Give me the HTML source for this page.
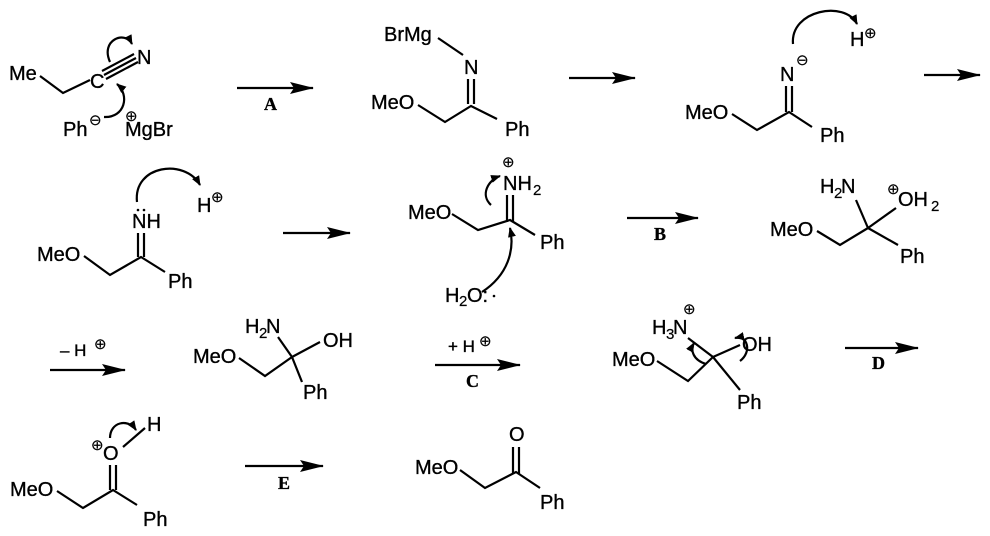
<!DOCTYPE html>
<html><head><meta charset="utf-8"><style>
html,body{margin:0;padding:0;background:#fff}
svg{display:block}
text{font-family:"Liberation Sans",sans-serif;font-size:20px;fill:#000;stroke:#000;stroke-width:0.35}
.s{font-size:15px;stroke-width:0.2}
.l{font-family:"Liberation Serif",serif;font-weight:bold;font-size:18px}
line,path,polyline{stroke:#000;stroke-width:2.2;fill:none}
</style></head><body>
<svg width="990" height="536" viewBox="0 0 990 536">
<defs>
<marker id="a" markerWidth="10" markerHeight="8" refX="9" refY="4" orient="auto" markerUnits="userSpaceOnUse"><path d="M0,0 L10,4 L0,8 Z" style="fill:#000;stroke:none"/></marker>
<marker id="b" markerWidth="24" markerHeight="12" refX="23" refY="6" orient="auto" markerUnits="userSpaceOnUse"><path d="M0,0 L24,6 L0,12 L4,6 Z" style="fill:#000;stroke:none"/></marker>
</defs>

<!-- Row 1: nitrile -->
<text x="9" y="80">Me</text>
<polyline points="40,76 63,93 90,80"/>
<text x="90" y="88">C</text>
<line x1="104" y1="75" x2="136" y2="58"/><line x1="102" y1="71" x2="134" y2="54"/><line x1="106" y1="79" x2="138" y2="62"/>
<text x="137" y="64">N</text>
<path d="M110,62 C100,40 125,30 132,44" marker-end="url(#a)"/>
<text x="63" y="136">Ph</text><text class="s" x="89" y="125">⊖</text>
<text x="125" y="136">MgBr</text><text class="s" x="125" y="121">⊕</text>
<path d="M104,117 C125,118 130,95 117,84" marker-end="url(#a)"/>

<line x1="237" y1="88" x2="313" y2="88" marker-end="url(#b)"/>
<text class="l" x="264" y="110">A</text>

<text x="384" y="41">BrMg</text>
<line x1="438" y1="38" x2="463" y2="55"/>
<text x="464" y="74">N</text>
<line x1="468" y1="79" x2="468" y2="104"/><line x1="474" y1="79" x2="474" y2="104"/>
<text x="371" y="109">MeO</text>
<polyline points="418,105 445,122 471,106 497,119"/>
<text x="505" y="136">Ph</text>

<line x1="569" y1="78" x2="635" y2="78" marker-end="url(#b)"/>

<text x="780" y="81">N</text><text class="s" x="796" y="65">⊖</text>
<line x1="786" y1="86" x2="786" y2="112"/><line x1="792" y1="86" x2="792" y2="112"/>
<text x="685" y="119">MeO</text>
<polyline points="732,114 757,130 789,112 812,127"/>
<text x="820" y="142">Ph</text>
<path d="M793,44 C790,10 845,0 857,24" marker-end="url(#a)"/>
<text x="850" y="46">H</text><text class="s" x="864" y="38">⊕</text>

<line x1="924" y1="75" x2="980" y2="75" marker-end="url(#b)"/>

<!-- Row 2 -->
<text x="132" y="228">NH</text>
<circle cx="138" cy="210" r="1.3"/><circle cx="144" cy="210" r="1.3"/>
<line x1="138" y1="233" x2="138" y2="257"/><line x1="144" y1="233" x2="144" y2="257"/>
<text x="37" y="261">MeO</text>
<polyline points="84,256 110,275 141,257 165,272"/>
<text x="168" y="288">Ph</text>
<path d="M137,202 C133,165 185,158 200,185" marker-end="url(#a)"/>
<text x="197" y="212">H</text><text class="s" x="211" y="202">⊕</text>

<line x1="283" y1="233" x2="350" y2="233" marker-end="url(#b)"/>

<text x="503" y="190">NH</text><text class="s" x="533" y="195">2</text><text class="s" x="502" y="167">⊕</text>
<line x1="507" y1="195" x2="507" y2="222"/><line x1="513" y1="195" x2="513" y2="222"/>
<text x="408" y="219">MeO</text>
<polyline points="452,214 478,230 510,220 535,235"/>
<text x="540" y="249">Ph</text>
<path d="M491,205 C480,195 488,180 500,176" marker-end="url(#a)"/>
<path d="M482,292 C508,275 515,250 510,228" marker-end="url(#a)"/>
<text x="445" y="302">H</text><text class="s" x="459" y="306">2</text><text x="467" y="302">O:</text><circle cx="494" cy="296" r="1.3"/>

<line x1="627" y1="218" x2="698" y2="218" marker-end="url(#b)"/>
<text class="l" x="654" y="240">B</text>

<text x="820" y="193">H</text><text class="s" x="834" y="198">2</text><text x="841" y="193">N</text>
<text class="s" x="887" y="194">⊕</text><text x="898" y="206">OH</text><text class="s" x="931" y="211">2</text>
<text x="770" y="236">MeO</text>
<polyline points="817,231 840,245 868,228"/>
<line x1="868" y1="228" x2="856" y2="200"/><line x1="868" y1="228" x2="896" y2="208"/><line x1="868" y1="228" x2="898" y2="245"/>
<text x="900" y="263">Ph</text>

<!-- Row 3 -->
<text x="60" y="356" style="font-size:17px">– H</text><text class="s" x="94" y="349">⊕</text>
<line x1="50" y1="370" x2="125" y2="370" marker-end="url(#b)"/>

<text x="245" y="333">H</text><text class="s" x="259" y="338">2</text><text x="266" y="333">N</text>
<text x="323" y="347">OH</text>
<text x="193" y="363">MeO</text>
<polyline points="239,358 265,376 292,357"/>
<line x1="292" y1="357" x2="278" y2="337"/><line x1="292" y1="357" x2="320" y2="342"/><line x1="292" y1="357" x2="302" y2="382"/>
<text x="303" y="399">Ph</text>

<text x="448" y="352" style="font-size:17px">+ H</text><text class="s" x="479" y="346">⊕</text>
<line x1="435" y1="365" x2="520" y2="365" marker-end="url(#b)"/>
<text class="l" x="466" y="387">C</text>

<text x="652" y="334">H</text><text class="s" x="666" y="339">3</text><text x="673" y="334">N</text><text class="s" x="683" y="314">⊕</text>
<text x="742" y="351">OH</text>
<text x="612" y="366">MeO</text>
<polyline points="657,361 688,381 713,357"/>
<line x1="713" y1="357" x2="688" y2="338"/><line x1="713" y1="357" x2="740" y2="345"/><line x1="713" y1="357" x2="740" y2="390"/>
<text x="737" y="409">Ph</text>
<path d="M706,364 C693,360 690,350 694,343" marker-end="url(#a)"/>
<path d="M740,361 C752,352 748,335 735,338" marker-end="url(#a)"/>

<line x1="845" y1="348" x2="918" y2="348" marker-end="url(#b)"/>
<text class="l" x="872" y="369">D</text>

<!-- Row 4 -->
<text x="147" y="431">H</text>
<line x1="145" y1="428" x2="123" y2="447"/>
<text class="s" x="91" y="450">⊕</text><text x="103" y="460">O</text>
<path d="M110,438 C110,422 128,418 136,430" marker-end="url(#a)"/>
<line x1="110" y1="465" x2="110" y2="490"/><line x1="116" y1="465" x2="116" y2="490"/>
<text x="10" y="496">MeO</text>
<polyline points="57,491 83,508 113,490 137,505"/>
<text x="143" y="526">Ph</text>

<line x1="245" y1="466" x2="323" y2="466" marker-end="url(#b)"/>
<text class="l" x="278" y="489">E</text>

<text x="509" y="441">O</text>
<line x1="513" y1="447" x2="513" y2="474"/><line x1="519" y1="447" x2="519" y2="474"/>
<text x="415" y="474">MeO</text>
<polyline points="460,470 485,488 516,472 540,488"/>
<text x="540" y="509">Ph</text>
</svg>
</body></html>
